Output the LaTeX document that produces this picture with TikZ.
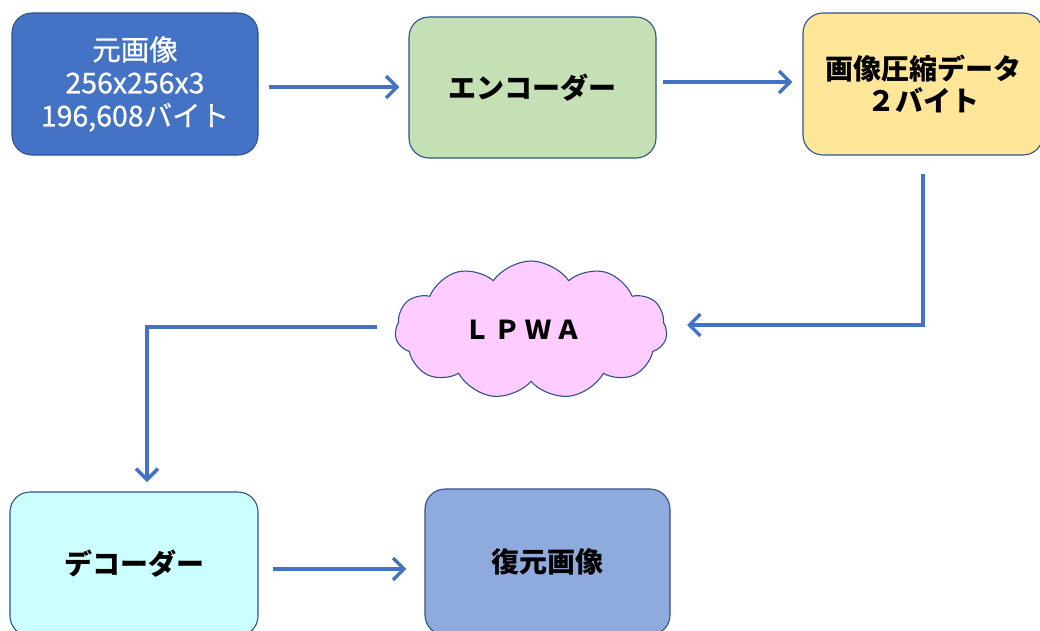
\documentclass[tikz,border=0pt]{standalone}
\usepackage{fontspec}
\setmainfont{Noto Sans CJK JP}
\newfontfamily\medfont{Noto Sans CJK JP}[FakeBold=0.6]
\usetikzlibrary{shapes.symbols,arrows.meta}
\definecolor{bdr}{HTML}{2F528F}
\definecolor{arr}{HTML}{4472C4}
\definecolor{cA}{HTML}{4472C4}
\definecolor{cB}{HTML}{C5E0B4}
\definecolor{cC}{HTML}{FFE699}
\definecolor{cD}{HTML}{CCFFFF}
\definecolor{cE}{HTML}{8FAADC}
\definecolor{cF}{HTML}{FFCCFF}
\tikzset{
  box/.style={draw=bdr, line width=1.1pt, rounded corners=20pt, align=center, inner sep=0pt},
  conn/.style={draw=arr, line width=3.4pt, -{Straight Barb[length=11pt,width=22pt,line width=3.4pt]}},
  txt/.style={font=\fontsize{28}{32}\selectfont\bfseries}
}
\begin{document}
\begin{tikzpicture}[x=1pt,y=-1pt]
\useasboundingbox (0,0) rectangle (1040,630);
\clip (0,0) rectangle (1040,630);
\node[box, fill=cA, minimum width=246pt, minimum height=142pt, text=white,
  font=\fontsize{28.5}{33}\medfont] (b1) at (135,84) {元画像\\256x256x3\\196,608バイト};
\node[box, fill=cB, minimum width=247pt, minimum height=141pt, txt] (b2) at (532.5,87.5) {エンコーダー};
\node[box, fill=cC, minimum width=240pt, minimum height=142pt, txt] (b3) at (923,84) {画像圧縮データ\\２バイト};
\node[cloud, cloud puffs=11, cloud puff arc=110, aspect=1.95, draw=bdr, line width=1.1pt, fill=cF,
  minimum width=272pt, minimum height=138pt, inner sep=0pt,
  font=\fontsize{26}{28}\selectfont\bfseries] (cl) at (531,330) {Ｌ\,Ｐ\,Ｗ\,Ａ\kern16pt};
\node[box, fill=cD, minimum width=248pt, minimum height=144pt, txt] (b4) at (134,564) {デコーダー};
\node[box, fill=cE, minimum width=245pt, minimum height=146pt, txt] (b5) at (547.5,562) {復元画像};
\coordinate (t4) at (147,490);
\draw[conn, shorten <=10pt, shorten >=9pt] ([shift={(0,3)}]b1.east) -- ([shift={(0,-0.5)}]b2.west);
\draw[conn, shorten <=6pt, shorten >=10pt] ([shift={(0,-5.5)}]b2.east) -- ([shift={(0,-2)}]b3.west);
\draw[conn, shorten <=18pt, shorten >=20pt] (b3.south) |- ([shift={(0,-5)}]cl.east);
\draw[conn, shorten <=18pt, shorten >=8pt] ([shift={(0,-3)}]cl.west) -| (t4);
\draw[conn, shorten <=14pt, shorten >=18pt] ([shift={(0,5)}]b4.east) -- ([shift={(0,7)}]b5.west);
\end{tikzpicture}
\end{document}
